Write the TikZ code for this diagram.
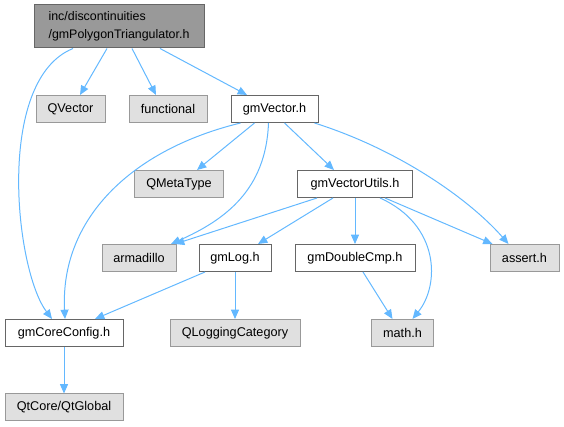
\documentclass[tikz,border=0pt]{standalone}
\usepackage{fontspec}
\setmainfont{Liberation Sans}
\usetikzlibrary{positioning}
\usetikzlibrary{arrows.meta, calc}

\begin{document}
\begin{tikzpicture}[x=0.75pt, y=-0.75pt]

\tikzset{file box/.style={
		draw=black!60, fill=white,
		line width=0.75pt,
		minimum width=#1, minimum height=20.25pt,
		inner sep=0pt, anchor=center,
		font=\fontsize{9.5}{11}\selectfont
	},
	file box/.default=60pt,
	ext box/.style={file box=#1, draw=black!40, fill=black!12},
	ext box/.default=60pt,
	root box/.style={file box=#1, draw=black!60, fill=black!40,
		minimum height=32.25pt, align=left,
		font=\fontsize{9.3}{13.5}\selectfont},
	dep/.style={draw={rgb,255:red,99;green,184;blue,255}, line width=0.75pt,
		-{Triangle[length=7pt,width=6pt]}}
}
\useasboundingbox (0,0) rectangle (564,427);

%|root|
\node[root box=127.5pt] (root) at (119,26.5) {inc/discontinuities\\/gmPolygonTriangulator.h};
\node[ext box=51.75pt] (qvector) at (70.5,109) {QVector};
\node[ext box=58.5pt] (functional) at (168,109) {functional};
\node[file box=65.25pt] (vector) at (274.5,109) {gmVector.h};
\node[ext box=66.75pt] (metatype) at (179,184) {QMetaType};
\node[file box=86.25pt] (utils) at (355,184) {gmVectorUtils.h};
\node[ext box=55.5pt] (armadillo) at (139,258) {armadillo};
\node[file box=54pt] (log) at (235,258) {gmLog.h};
\node[file box=90pt] (dblcmp) at (355,258) {gmDoubleCmp.h};
\node[ext box=51.75pt] (assert) at (524.5,258) {assert.h};
\node[file box=88.5pt] (core) at (64,333) {gmCoreConfig.h};
\node[ext box=97.5pt] (logcat) at (235,333) {QLoggingCategory};
\node[ext box=46.5pt] (math) at (402.5,333) {math.h};
\node[ext box=88.5pt] (global) at (64,407.5) {QtCore/QtGlobal};

\draw[dep] ($(root.south)+(-46,0)$) .. controls (-5,80) and (15,270) .. ($(core.north)+(-12,0)$);
\draw[dep] ($(root.south)+(-12,0)$) -- ($(qvector.north)+(9.5,0)$);
\draw[dep] ($(root.south)+(13,0)$) -- ($(functional.north)+(-12,0)$);
\draw[dep] ($(root.south)+(41,0)$) -- ($(vector.north)+(-27.5,0)$);

\draw[dep] ($(vector.south)+(-20,0)$) -- ($(metatype.north)+(18,0)$);
\draw[dep] ($(vector.south)+(-34,0)$) .. controls (130,150) and (60,220) .. ($(core.north)+(1,0)$);
\draw[dep] ($(vector.south)+(-6,0)$) .. controls (266,190) and (225,220) .. ($(armadillo.north)+(32,0)$);
\draw[dep] ($(vector.south)+(10,0)$) -- ($(utils.north)+(-21,0)$);
\draw[dep] ($(vector.south)+(40,0)$) .. controls (400,150) and (470,200) .. ($(assert.north)+(-16,0)$);

\draw[dep] ($(utils.south)+(-38,0)$) -- ($(armadillo.north)+(36,0)$);
\draw[dep] ($(utils.south)+(-22,0)$) -- ($(log.north)+(23,0)$);
\draw[dep] (utils.south) -- (dblcmp.north);
\draw[dep] ($(utils.south)+(30,0)$) -- ($(assert.north)+(-32,0)$);
\draw[dep] ($(utils.south)+(25,0)$) .. controls (440,225) and (440,285) .. ($(math.north)+(10,0)$);

\draw[dep] ($(log.south)+(-30,0)$) -- ($(core.north)+(31,0)$);
\draw[dep] (log.south) -- (logcat.north);
\draw[dep] ($(dblcmp.south)+(8,0)$) -- ($(math.north)+(-10,0)$);
\draw[dep] (core.south) -- (global.north);
\end{tikzpicture}
\end{document}
